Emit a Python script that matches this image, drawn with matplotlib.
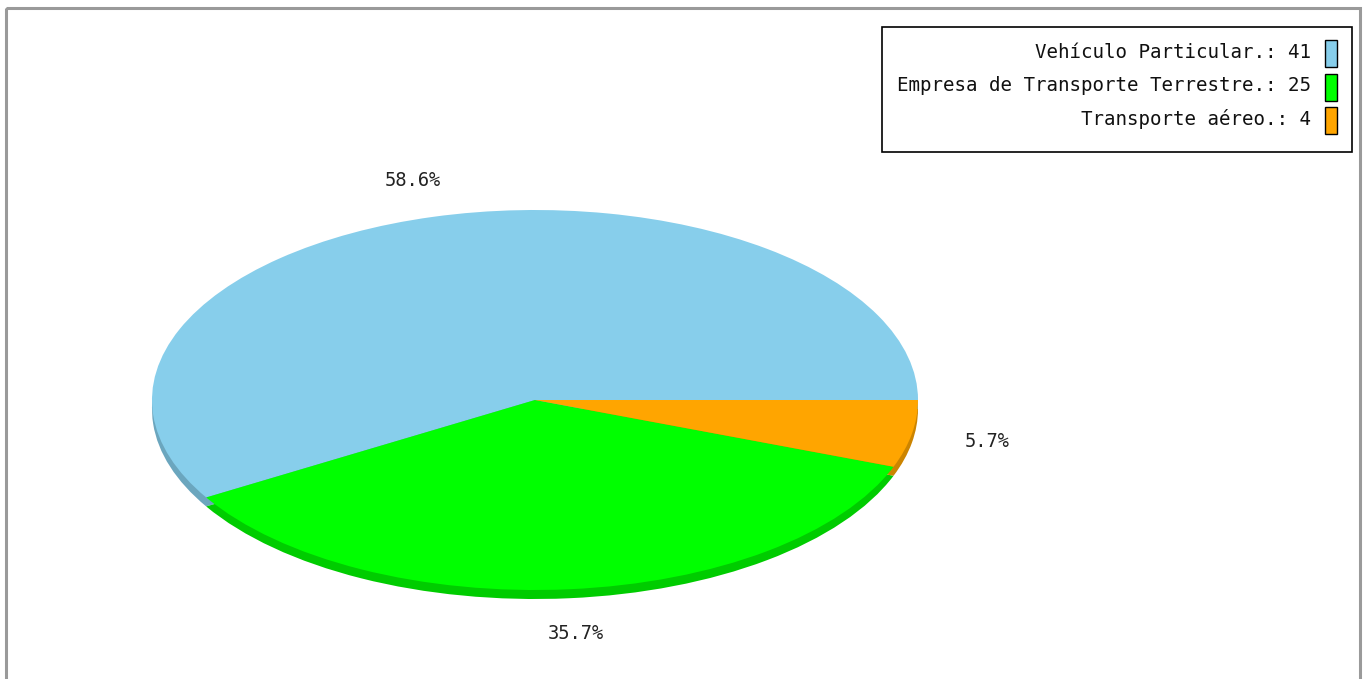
import matplotlib.pyplot as plt
from matplotlib.patches import Rectangle

labels = ['Vehículo Particular.', 'Empresa de Transporte Terrestre.', 'Transporte aéreo.']
values = [41, 25, 4]
colors = ['#87CEEB', '#00FF00', '#FFA500']
side_colors = ['#6BA6BE', '#00CC00', '#CC8400']

W, H = 1366, 679
fig = plt.figure(figsize=(W / 100, H / 100), dpi=100)

# background axes in pixel coordinates
ax0 = fig.add_axes([0, 0, 1, 1])
ax0.set_xlim(0, W)
ax0.set_ylim(H, 0)
ax0.axis('off')
ax0.add_patch(Rectangle((6, 8), 1354, 690, fill=False, edgecolor='#9a9a9a', linewidth=2.2))

# pie ellipse box (pixels)
left, right, top, bottom = 152, 918, 210, 590
depth = 9


def pie_axes(dy):
    return fig.add_axes([left / W, (H - bottom - dy) / H, (right - left) / W, (bottom - top) / H])


# side (depth) of the pie
ax_s = pie_axes(depth)
ax_s.pie(values, colors=side_colors, startangle=0, counterclock=True,
         wedgeprops=dict(linewidth=0))
ax_s.set_aspect('auto')
ax_s.set_xlim(-1, 1)
ax_s.set_ylim(-1, 1)
ax_s.axis('off')

# top of the pie
ax = pie_axes(0)
wedges, texts, autotexts = ax.pie(values, colors=colors, startangle=0, counterclock=True,
                                  autopct='%.1f%%', pctdistance=1.2,
                                  wedgeprops=dict(linewidth=0),
                                  textprops=dict(family='DejaVu Sans Mono', fontsize=13.5,
                                                 color='#222222'))
# labels below the pie sit a little lower because of the depth
for t in autotexts:
    x, y = t.get_position()
    if y < 0:
        t.set_position((x, y * 1.03))
ax.set_aspect('auto')
ax.set_xlim(-1, 1)
ax.set_ylim(-1, 1)
ax.axis('off')
ax.patch.set_alpha(0)
ax_s.patch.set_alpha(0)

# legend
ax0.add_patch(Rectangle((882, 27), 470, 125, facecolor='white', edgecolor='black', linewidth=1.2))
for i, (lab, v, c) in enumerate(zip(labels, values, colors)):
    y = 52 + i * 33.5
    ax0.text(1311, y, f'{lab}: {v}', ha='right', va='center',
             family='DejaVu Sans Mono', fontsize=13.8, color='#111111')
    ax0.add_patch(Rectangle((1325, y - 12), 12, 27, facecolor=c, edgecolor='black', linewidth=1))

fig.savefig('out.png', dpi=100, facecolor='white')
